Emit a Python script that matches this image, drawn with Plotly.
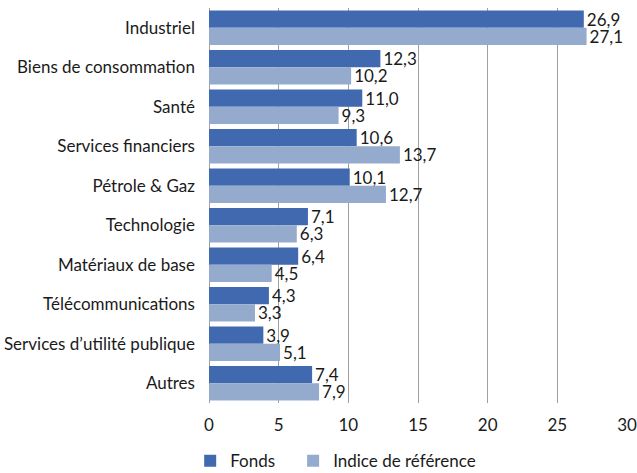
import plotly.graph_objects as go

categories = ["Industriel", "Biens de consommation", "Santé", "Services financiers",
              "Pétrole & Gaz", "Technologie", "Matériaux de base", "Télécommunications",
              "Services d\u2019utilité publique", "Autres"]
fonds = [26.9, 12.3, 11.0, 10.6, 10.1, 7.1, 6.4, 4.3, 3.9, 7.4]
indice = [27.1, 10.2, 9.3, 13.7, 12.7, 6.3, 4.5, 3.3, 5.1, 7.9]
x_ticks = [0, 5, 10, 15, 20, 25, 30]

def fmt(v):
    return f"{v:.1f}".replace(".", ",")

font_family = "Lato, Open Sans, sans-serif"
txt_color = "#1a1a1a"

fig = go.Figure()
fig.add_trace(go.Bar(
    y=categories, x=fonds, orientation="h", name="Fonds\u00a0\u00a0\u00a0",
    marker=dict(color="#4169B0", line=dict(width=0)),
    text=[fmt(v) for v in fonds], textposition="outside", cliponaxis=False,
    constraintext="none",
    textfont=dict(size=17, color=txt_color, family=font_family),
))
fig.add_trace(go.Bar(
    y=categories, x=indice, orientation="h", name="Indice de référence",
    marker=dict(color="#95ABCE", line=dict(width=0)),
    text=[fmt(v) for v in indice], textposition="outside", cliponaxis=False,
    constraintext="none",
    textfont=dict(size=17, color=txt_color, family=font_family),
))

fig.update_layout(
    width=637, height=473,
    margin=dict(l=209, r=10, t=8, b=70, autoexpand=False),
    barmode="group", bargap=0.13, bargroupgap=0,
    plot_bgcolor="white", paper_bgcolor="white",
    font=dict(family=font_family, size=17, color=txt_color),
    showlegend=True,
    legend=dict(orientation="h", x=-0.045, xanchor="left", xref="paper",
                yref="container", y=0.025, yanchor="middle",
                font=dict(size=17, color=txt_color), itemwidth=30,
                traceorder="normal"),
)
fig.update_xaxes(
    range=[0, 30], tickvals=x_ticks, ticktext=[str(t) for t in x_ticks],
    showgrid=True, gridcolor="#A0A0A0", gridwidth=1,
    zeroline=True, zerolinecolor="#A0A0A0", zerolinewidth=1,
    showline=False, ticks="", tickfont=dict(size=17, color=txt_color),
    ticklabelstandoff=10, fixedrange=True,
)
fig.update_yaxes(
    autorange="reversed", showgrid=False, showline=False, ticks="",
    ticksuffix="   ", tickfont=dict(size=17, color=txt_color),
)

fig.write_html("out.html")
